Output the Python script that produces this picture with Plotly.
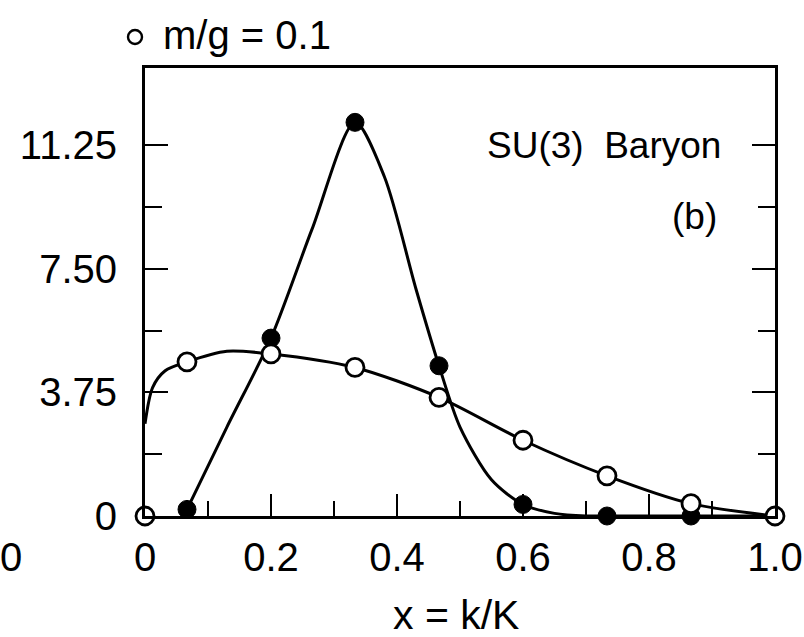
import plotly.graph_objects as go

# Momentum fraction x = k/K for the sampled points
x_filled = [1/15, 3/15, 5/15, 7/15, 9/15, 11/15, 13/15]
y_filled = [0.2, 5.4, 11.95, 4.56, 0.35, 0.0, 0.0]

x_open = [0.0, 1/15, 3/15, 5/15, 7/15, 9/15, 11/15, 13/15, 1.0]
y_open = [0.0, 4.68, 4.92, 4.51, 3.60, 2.30, 1.22, 0.375, 0.0]

# Smooth interpolating curves
curve_filled_x = [1/15, 0.13, 3/15, 0.265, 5/15, 0.38, 0.43, 7/15, 0.50, 0.55, 9/15, 0.65, 0.70, 11/15, 13/15, 1.0]
curve_filled_y = [0.2, 2.7, 5.4, 8.7, 11.95, 10.3, 6.9, 4.56, 2.7, 1.1, 0.35, 0.08, 0.0, 0.0, 0.0, 0.0]

curve_open_x = [0.0, 0.012, 0.032, 1/15, 0.13, 3/15, 5/15, 7/15, 9/15, 11/15, 13/15, 1.0]
curve_open_y = [2.8, 3.9, 4.41, 4.68, 5.0, 4.92, 4.51, 3.60, 2.30, 1.22, 0.375, 0.0]

y_tickvals = [0, 3.75, 7.5, 11.25]
y_ticktext = ["0", "3.75", "7.50", "11.25"]
y_minorvals = [1.875, 5.625, 9.375]
x_tickvals = [0, 0.2, 0.4, 0.6, 0.8, 1.0]
x_ticktext = ["0", "0.2", "0.4", "0.6", "0.8", "1.0"]

FONT = "Liberation Sans, Arial, Helvetica, sans-serif"
FS = 40
FS_NOTE = 37
LW = 3

# Plot frame in pixels
L, R, T, B = 145, 775, 68, 516
W, H = R - L, B - T

fig = go.Figure()

fig.add_trace(go.Scatter(
    x=curve_filled_x, y=curve_filled_y, mode="lines",
    line=dict(color="black", width=LW, shape="spline", smoothing=0.8),
    hoverinfo="skip", cliponaxis=False))
fig.add_trace(go.Scatter(
    x=curve_open_x, y=curve_open_y, mode="lines",
    line=dict(color="black", width=LW, shape="spline", smoothing=0.8),
    hoverinfo="skip", cliponaxis=False))
fig.add_trace(go.Scatter(
    x=x_filled, y=y_filled, mode="markers",
    marker=dict(symbol="circle", size=18, color="black",
                line=dict(color="black", width=1)),
    cliponaxis=False))
fig.add_trace(go.Scatter(
    x=x_open, y=y_open, mode="markers",
    marker=dict(symbol="circle", size=18, color="white",
                line=dict(color="black", width=2.8)),
    cliponaxis=False))

fig.update_layout(
    width=804, height=637,
    margin=dict(l=L, r=804 - R, t=T, b=637 - B, autoexpand=False),
    paper_bgcolor="white", plot_bgcolor="white",
    showlegend=False,
    font=dict(family=FONT, size=FS, color="black"),
    xaxis=dict(
        range=[0, 1], showgrid=False, zeroline=False, automargin=False,
        showline=True, linecolor="black", linewidth=LW, mirror=True,
        ticks="inside", ticklen=22, tickwidth=2.2, tickcolor="black",
        tickvals=x_tickvals, ticktext=x_ticktext,
        tickfont=dict(family=FONT, size=FS), ticklabelstandoff=4,
        minor=dict(dtick=0.1, tick0=0, ticks="inside", ticklen=15,
                   tickwidth=2.2, tickcolor="black"),
    ),
    yaxis=dict(
        range=[0, 13.6], showgrid=False, zeroline=False, automargin=False,
        showline=True, linecolor="black", linewidth=LW, mirror="ticks",
        ticks="inside", ticklen=23, tickwidth=2.2, tickcolor="black",
        tickvals=y_tickvals, ticktext=y_ticktext,
        tickfont=dict(family=FONT, size=FS), ticklabelstandoff=17,
        minor=dict(tickmode="array", tickvals=y_minorvals, ticks="inside",
                   ticklen=17, tickwidth=2.2, tickcolor="black"),
    ),
)

# Axis title
fig.add_annotation(text="x = k/K", xref="paper", yref="paper",
                   x=(456 - L) / W, y=(B - 615) / H,
                   xanchor="center", yanchor="middle", showarrow=False,
                   font=dict(family=FONT, size=41))

# Legend-style label above the frame
fig.add_shape(type="circle", xref="paper", yref="paper",
              xsizemode="pixel", ysizemode="pixel",
              xanchor=(135 - L) / W, yanchor=1 + (T - 37) / H,
              x0=-7, x1=7, y0=-7, y1=7,
              line=dict(color="black", width=2.4), fillcolor="white")
fig.add_annotation(text="m/g = 0.1", xref="paper", yref="paper",
                   x=(161 - L) / W, y=1 + (T - 35) / H,
                   xanchor="left", yanchor="middle", showarrow=False,
                   font=dict(family=FONT, size=FS))

fig.add_annotation(text="SU(3)\u00a0\u00a0Baryon", xref="paper", yref="paper",
                   x=(723 - L) / W, y=(B - 145) / H,
                   xanchor="right", yanchor="middle", showarrow=False,
                   font=dict(family=FONT, size=FS_NOTE))
fig.add_annotation(text="(b)", xref="paper", yref="paper",
                   x=(719 - L) / W, y=(B - 216) / H,
                   xanchor="right", yanchor="middle", showarrow=False,
                   font=dict(family=FONT, size=FS_NOTE))

# Neighbouring panel's axis label at the left edge
fig.add_annotation(text="0", xref="paper", yref="paper",
                   x=(11 - L) / W, y=(B - 557) / H,
                   xanchor="center", yanchor="middle", showarrow=False,
                   font=dict(family=FONT, size=FS))

fig.write_html("out.html")
